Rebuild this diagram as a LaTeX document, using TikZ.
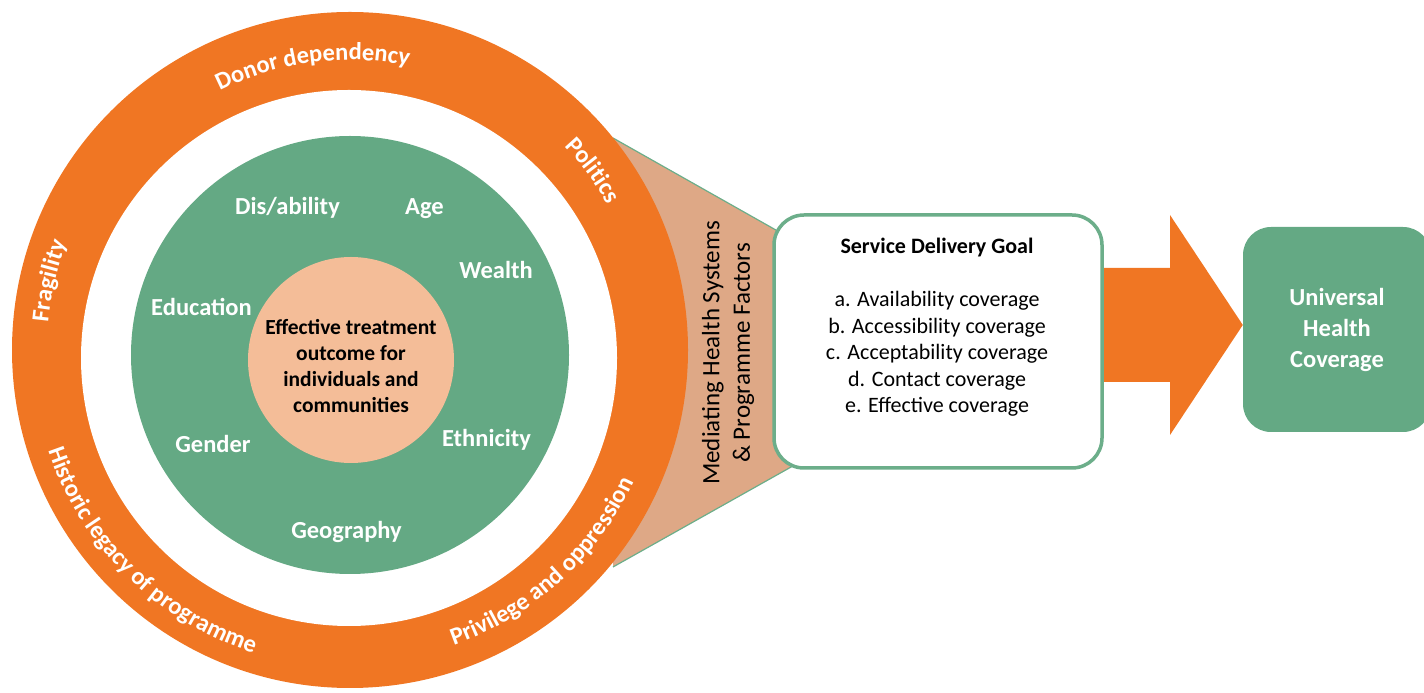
\documentclass[tikz,border=0pt]{standalone}
\usepackage{fontspec}
\setmainfont{Carlito}
\usetikzlibrary{positioning,calc,decorations.text,backgrounds}

\definecolor{ringorange}{RGB}{240,118,35}
\definecolor{factorgreen}{RGB}{100,169,132}
\definecolor{corepeach}{RGB}{244,189,152}
\definecolor{wedgetan}{RGB}{222,168,134}
\definecolor{edgegreen}{RGB}{108,174,138}

\newcommand{\ringfont}{\bfseries\fontsize{24.5}{30}\selectfont}

\tikzset{
	disc/.style={circle, inner sep=0pt, minimum size=#1},
	factor/.style={anchor=base, text=white, font=\bfseries\fontsize{24.5}{30}\selectfont},
	goalbox/.style={draw=edgegreen, line width=3.5pt, fill=white, rounded corners=30,
		minimum width=328, minimum height=253},
	goaltitle/.style={anchor=base, font=\bfseries\fontsize{22}{26.5}\selectfont},
	goalitem/.style={anchor=base, font=\fontsize{22}{26.5}\selectfont},
	uhcbox/.style={fill=factorgreen, rounded corners=28, minimum width=188, minimum height=205,
		text=white, align=center, font=\bfseries\fontsize{24.5}{31}\selectfont},
	wedgeedge/.style={draw=edgegreen, line width=1.2pt}
}

\begin{document}
\begin{tikzpicture}[x=1pt,y=1pt]
	\useasboundingbox (0,0) rectangle (1424,693);
	\clip (0,0) rectangle (1424,693);
	
	% wedge between ring and goal box
	\coordinate (wtop) at (613,555);
	\coordinate (wbot) at (613,126);
	\fill[wedgetan] (wtop) -- (790,455) -- (800,231) -- (wbot) -- cycle;
	\draw[wedgeedge] (wtop) -- (790,455);
	\draw[wedgeedge] (wbot) -- (800,231);
	
	% rings
	\node[disc=676, fill=ringorange] (ring) at (350,343) {};
	\node[disc=536, fill=white] (gap) at (349,335) {};
	\node[disc=438, fill=factorgreen] (factors) at (350,338) {};
	\node[disc=206, fill=corepeach] (core) at (351,333) {};
	
	\foreach \txt/\a/\b/\r in {
		Donor dependency/147.5/47.5/290,
		Politics/86.5/-13.5/296,
		Fragility/217/117/303,
		Historic legacy of programme/175.4/275.4/318,
		Privilege and oppression/262.2/362.2/313}
	\path[decorate, decoration={text along path, text align=center, text color=white,
		text/.expanded={|\noexpand\ringfont|\txt}}]
		(ring.center) ++(\a:\r) arc[start angle=\a, end angle=\b, radius=\r];
	
	\node[factor] (disability) at (287.5,478) {Dis/ability};
	\node[factor] (age) at (424.5,478) {Age};
	\node[factor] (wealth) at (496,414) {Wealth};
	\node[factor] (education) at (201.5,377) {Education};
	\node[factor] (gender) at (213,240) {Gender};
	\node[factor] (ethnicity) at (486.5,246) {Ethnicity};
	\node[factor] (geography) at (346.5,154) {Geography};
	
	\node[align=center, font=\bfseries\fontsize{21.5}{26}\selectfont] (outcome) at (351,327)
		{Effective treatment\\outcome for\\individuals and\\communities};
	
	\node[rotate=90, align=center, font=\fontsize{25}{30.5}\selectfont] (mediating) at (728,340)
		{Mediating Health Systems\\\& Programme Factors};
	
	% goal box
	\node[goalbox] (sdg) at (938,351.5) {};
	\node[goaltitle] (sdgtitle) at (937,439) {Service Delivery Goal};
	\foreach \txt [count=\i] in {a. Availability coverage, b. Accessibility coverage,
		c. Acceptability coverage, d. Contact coverage, e. Effective coverage}
	\node[goalitem] (goal\i) at (937,{386-26.5*(\i-1)}) {\txt};
	
	\node[uhcbox] (uhc) at (1337,363.5) {Universal\\Health\\Coverage};
	
	\begin{pgfonlayer}{background}
		\fill[ringorange] let \p1=(sdg.east), \p2=(uhc.west) in
			(\x1-10,425) -- (1170,425) -- (1170,478) -- (\x2,368)
			-- (1170,258) -- (1170,311) -- (\x1-10,311) -- cycle;
	\end{pgfonlayer}
\end{tikzpicture}
\end{document}
